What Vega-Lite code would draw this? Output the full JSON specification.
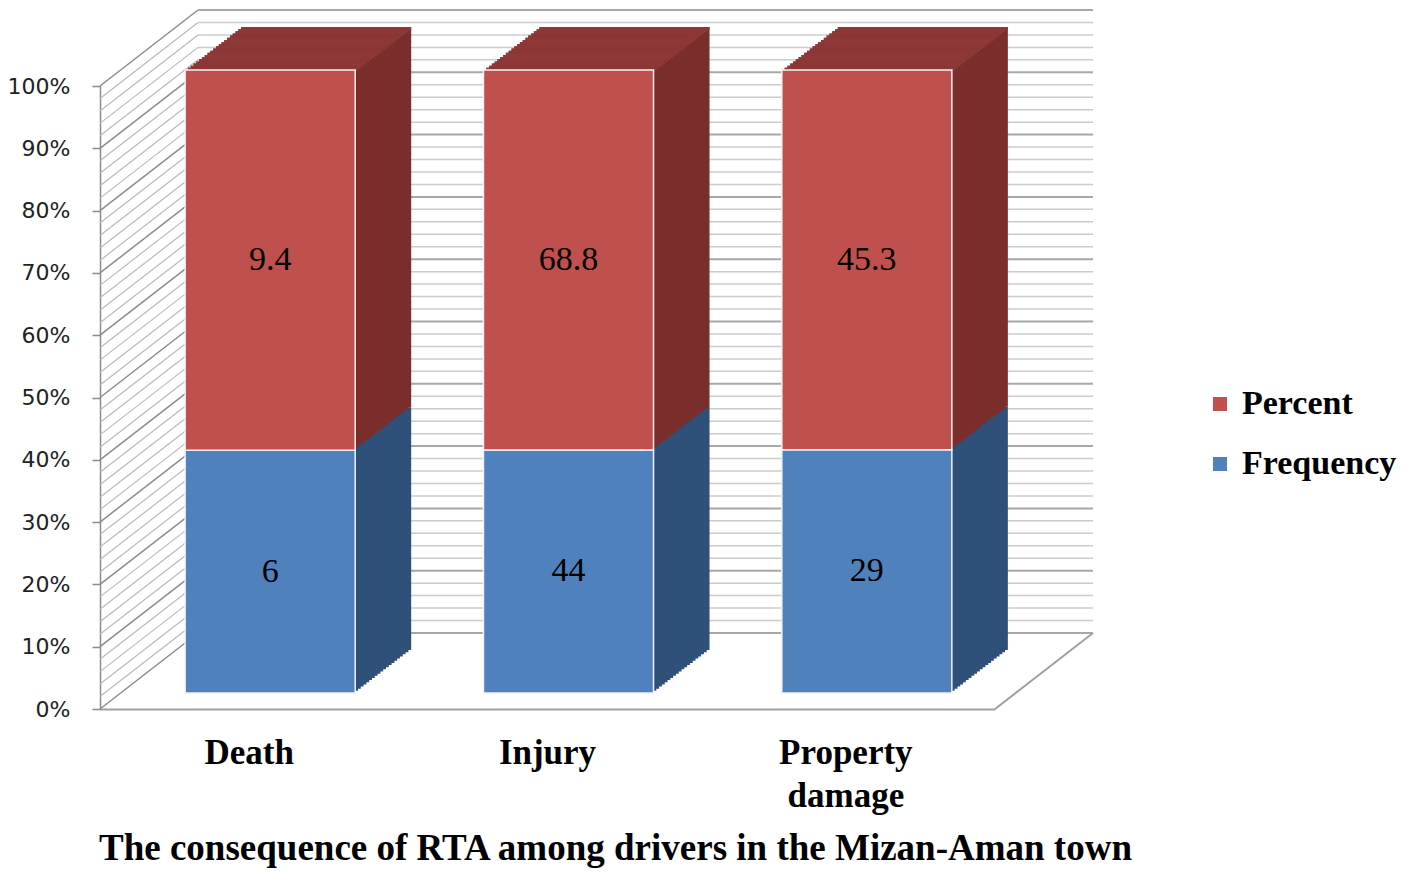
{
  "$schema": "https://vega.github.io/schema/vega-lite/v6.json",
  "width": 895,
  "height": 623,
  "autosize": "none",
  "padding": {"left": 100, "top": 86, "right": 422, "bottom": 164},
  "background": "white",
  "config": {
    "view": {"stroke": null},
    "legend": {"labelFont": "Liberation Serif", "labelFontWeight": "bold", "labelFontSize": 34, "labelColor": "black"}
  },
  "datasets": {
    "rta": [
      {"cat": "Death", "series": "Frequency", "val": 6},
      {"cat": "Death", "series": "Percent", "val": 9.4},
      {"cat": "Injury", "series": "Frequency", "val": 44},
      {"cat": "Injury", "series": "Percent", "val": 68.8},
      {"cat": "Property damage", "series": "Frequency", "val": 29},
      {"cat": "Property damage", "series": "Percent", "val": 45.3}
    ],
    "minor": [
      {"g": 0.02}, {"g": 0.04}, {"g": 0.06}, {"g": 0.08},
      {"g": 0.12}, {"g": 0.14}, {"g": 0.16}, {"g": 0.18},
      {"g": 0.22}, {"g": 0.24}, {"g": 0.26}, {"g": 0.28},
      {"g": 0.32}, {"g": 0.34}, {"g": 0.36}, {"g": 0.38},
      {"g": 0.42}, {"g": 0.44}, {"g": 0.46}, {"g": 0.48},
      {"g": 0.52}, {"g": 0.54}, {"g": 0.56}, {"g": 0.58},
      {"g": 0.62}, {"g": 0.64}, {"g": 0.66}, {"g": 0.68},
      {"g": 0.72}, {"g": 0.74}, {"g": 0.76}, {"g": 0.78},
      {"g": 0.82}, {"g": 0.84}, {"g": 0.86}, {"g": 0.88},
      {"g": 0.92}, {"g": 0.94}, {"g": 0.96}, {"g": 0.98}
    ],
    "major": [
      {"g": 0}, {"g": 0.1}, {"g": 0.2}, {"g": 0.3}, {"g": 0.4}, {"g": 0.5},
      {"g": 0.6}, {"g": 0.7}, {"g": 0.8}, {"g": 0.9}, {"g": 1}
    ]
  },
  "layer": [
    {
      "layer": [
        {
          "data": {"name": "minor"},
          "mark": {"type": "rule", "color": "#CCCCCC", "strokeWidth": 1.5, "yOffset": -76, "y2Offset": -76},
          "encoding": {
            "x": {"datum": 0.1095, "type": "quantitative", "scale": {"domain": [0, 1], "nice": false}, "axis": null},
            "x2": {"datum": 1.1095},
            "y": {"field": "g", "type": "quantitative", "scale": {"domain": [0, 1], "nice": false}, "axis": null},
            "y2": {"field": "g"}
          }
        },
        {
          "data": {"name": "major"},
          "mark": {"type": "rule", "color": "#A8A8A8", "strokeWidth": 2, "yOffset": -76, "y2Offset": -76},
          "encoding": {
            "x": {"datum": 0.1095, "type": "quantitative", "axis": null},
            "x2": {"datum": 1.1095},
            "y": {"field": "g", "type": "quantitative", "axis": null},
            "y2": {"field": "g"}
          }
        },
        {
          "data": {"name": "minor"},
          "mark": {"type": "rule", "color": "#BBBBBB", "strokeWidth": 1.2, "y2Offset": -76},
          "encoding": {
            "x": {"datum": 0, "type": "quantitative", "axis": null},
            "x2": {"datum": 0.1095},
            "y": {"field": "g", "type": "quantitative", "axis": null},
            "y2": {"field": "g"}
          }
        },
        {
          "data": {"name": "major"},
          "mark": {"type": "rule", "color": "#8C8C8C", "strokeWidth": 1.5, "y2Offset": -76},
          "encoding": {
            "x": {"datum": 0, "type": "quantitative", "axis": null},
            "x2": {"datum": 0.1095},
            "y": {"field": "g", "type": "quantitative", "axis": null},
            "y2": {"field": "g"}
          }
        },
        {
          "data": {"values": [{"g": 0}]},
          "mark": {"type": "rule", "color": "#A0A0A0", "strokeWidth": 2, "y2Offset": -76},
          "encoding": {
            "x": {"datum": 1, "type": "quantitative", "axis": null},
            "x2": {"datum": 1.1095},
            "y": {"field": "g", "type": "quantitative", "axis": null},
            "y2": {"field": "g"}
          }
        }
      ]
    },
    {
      "data": {"name": "rta"},
      "transform": [
        {"stack": "val", "groupby": ["cat"], "sort": [{"field": "series", "order": "ascending"}], "offset": "normalize", "as": ["y0", "y1"]},
        {"calculate": "(datum.y0 + datum.y1) / 2", "as": "mid"}
      ],
      "encoding": {
        "x": {
          "field": "cat",
          "type": "nominal",
          "sort": ["Death", "Injury", "Property damage"],
          "scale": {"paddingInner": 0.43, "paddingOuter": 0.215},
          "axis": {
            "labelAngle": 0,
            "labelFont": "Liberation Serif",
            "labelFontWeight": "bold",
            "labelFontSize": 35,
            "labelColor": "black",
            "labelPadding": 26,
            "labelLineHeight": 43,
            "labelExpr": "split(datum.label, ' ')",
            "ticks": false,
            "domainColor": "#A0A0A0",
            "domainWidth": 2,
            "title": "The consequence of RTA among drivers in the Mizan-Aman  town",
            "titleFont": "Liberation Serif",
            "titleFontWeight": "bold",
            "titleFontSize": 37,
            "titleColor": "black",
            "titleAlign": "center",
            "titleBaseline": "alphabetic",
            "titleX": 515,
            "titleY": 150
          }
        },
        "y": {
          "field": "y1",
          "type": "quantitative",
          "scale": {"domain": [0, 1], "nice": false},
          "axis": {
            "values": [0, 0.1, 0.2, 0.3, 0.4, 0.5, 0.6, 0.7, 0.8, 0.9, 1],
            "format": ".0%",
            "title": null,
            "grid": false,
            "labelFont": "DejaVu Sans",
            "labelFontSize": 22,
            "labelColor": "#222222",
            "labelPadding": 22,
            "tickSize": 8,
            "tickColor": "#8C8C8C",
            "tickWidth": 1.5,
            "domainColor": "#8C8C8C",
            "domainWidth": 1.5
          }
        }
      },
      "layer": [
        {"mark": {"type": "bar", "xOffset": 77, "yOffset": -59, "y2Offset": -59}, "encoding": {"y2": {"field": "y0"}, "color": {"condition": {"test": "datum.series === 'Percent'", "value": "#7A2E2C"}, "value": "#2F5079"}}},
        {"transform": [{"filter": "datum.series === 'Percent'"}], "mark": {"type": "bar", "color": "#8E3937", "xOffset": 77, "yOffset": -59, "y2Offset": -56}, "encoding": {"y2": {"field": "y1"}}},
        {"mark": {"type": "bar", "xOffset": 74.2, "yOffset": -56.85, "y2Offset": -56.85}, "encoding": {"y2": {"field": "y0"}, "color": {"condition": {"test": "datum.series === 'Percent'", "value": "#7A2E2C"}, "value": "#2F5079"}}},
        {"transform": [{"filter": "datum.series === 'Percent'"}], "mark": {"type": "bar", "color": "#8E3937", "xOffset": 74.2, "yOffset": -56.85, "y2Offset": -53.85}, "encoding": {"y2": {"field": "y1"}}},
        {"mark": {"type": "bar", "xOffset": 71.4, "yOffset": -54.7, "y2Offset": -54.7}, "encoding": {"y2": {"field": "y0"}, "color": {"condition": {"test": "datum.series === 'Percent'", "value": "#7A2E2C"}, "value": "#2F5079"}}},
        {"transform": [{"filter": "datum.series === 'Percent'"}], "mark": {"type": "bar", "color": "#8E3937", "xOffset": 71.4, "yOffset": -54.7, "y2Offset": -51.7}, "encoding": {"y2": {"field": "y1"}}},
        {"mark": {"type": "bar", "xOffset": 68.6, "yOffset": -52.55, "y2Offset": -52.55}, "encoding": {"y2": {"field": "y0"}, "color": {"condition": {"test": "datum.series === 'Percent'", "value": "#7A2E2C"}, "value": "#2F5079"}}},
        {"transform": [{"filter": "datum.series === 'Percent'"}], "mark": {"type": "bar", "color": "#8E3937", "xOffset": 68.6, "yOffset": -52.55, "y2Offset": -49.55}, "encoding": {"y2": {"field": "y1"}}},
        {"mark": {"type": "bar", "xOffset": 65.8, "yOffset": -50.4, "y2Offset": -50.4}, "encoding": {"y2": {"field": "y0"}, "color": {"condition": {"test": "datum.series === 'Percent'", "value": "#7A2E2C"}, "value": "#2F5079"}}},
        {"transform": [{"filter": "datum.series === 'Percent'"}], "mark": {"type": "bar", "color": "#8E3937", "xOffset": 65.8, "yOffset": -50.4, "y2Offset": -47.4}, "encoding": {"y2": {"field": "y1"}}},
        {"mark": {"type": "bar", "xOffset": 63, "yOffset": -48.25, "y2Offset": -48.25}, "encoding": {"y2": {"field": "y0"}, "color": {"condition": {"test": "datum.series === 'Percent'", "value": "#7A2E2C"}, "value": "#2F5079"}}},
        {"transform": [{"filter": "datum.series === 'Percent'"}], "mark": {"type": "bar", "color": "#8E3937", "xOffset": 63, "yOffset": -48.25, "y2Offset": -45.25}, "encoding": {"y2": {"field": "y1"}}},
        {"mark": {"type": "bar", "xOffset": 60.2, "yOffset": -46.1, "y2Offset": -46.1}, "encoding": {"y2": {"field": "y0"}, "color": {"condition": {"test": "datum.series === 'Percent'", "value": "#7A2E2C"}, "value": "#2F5079"}}},
        {"transform": [{"filter": "datum.series === 'Percent'"}], "mark": {"type": "bar", "color": "#8E3937", "xOffset": 60.2, "yOffset": -46.1, "y2Offset": -43.1}, "encoding": {"y2": {"field": "y1"}}},
        {"mark": {"type": "bar", "xOffset": 57.4, "yOffset": -43.95, "y2Offset": -43.95}, "encoding": {"y2": {"field": "y0"}, "color": {"condition": {"test": "datum.series === 'Percent'", "value": "#7A2E2C"}, "value": "#2F5079"}}},
        {"transform": [{"filter": "datum.series === 'Percent'"}], "mark": {"type": "bar", "color": "#8E3937", "xOffset": 57.4, "yOffset": -43.95, "y2Offset": -40.95}, "encoding": {"y2": {"field": "y1"}}},
        {"mark": {"type": "bar", "xOffset": 54.6, "yOffset": -41.8, "y2Offset": -41.8}, "encoding": {"y2": {"field": "y0"}, "color": {"condition": {"test": "datum.series === 'Percent'", "value": "#7A2E2C"}, "value": "#2F5079"}}},
        {"transform": [{"filter": "datum.series === 'Percent'"}], "mark": {"type": "bar", "color": "#8E3937", "xOffset": 54.6, "yOffset": -41.8, "y2Offset": -38.8}, "encoding": {"y2": {"field": "y1"}}},
        {"mark": {"type": "bar", "xOffset": 51.8, "yOffset": -39.65, "y2Offset": -39.65}, "encoding": {"y2": {"field": "y0"}, "color": {"condition": {"test": "datum.series === 'Percent'", "value": "#7A2E2C"}, "value": "#2F5079"}}},
        {"transform": [{"filter": "datum.series === 'Percent'"}], "mark": {"type": "bar", "color": "#8E3937", "xOffset": 51.8, "yOffset": -39.65, "y2Offset": -36.65}, "encoding": {"y2": {"field": "y1"}}},
        {"mark": {"type": "bar", "xOffset": 49, "yOffset": -37.5, "y2Offset": -37.5}, "encoding": {"y2": {"field": "y0"}, "color": {"condition": {"test": "datum.series === 'Percent'", "value": "#7A2E2C"}, "value": "#2F5079"}}},
        {"transform": [{"filter": "datum.series === 'Percent'"}], "mark": {"type": "bar", "color": "#8E3937", "xOffset": 49, "yOffset": -37.5, "y2Offset": -34.5}, "encoding": {"y2": {"field": "y1"}}},
        {"mark": {"type": "bar", "xOffset": 46.2, "yOffset": -35.35, "y2Offset": -35.35}, "encoding": {"y2": {"field": "y0"}, "color": {"condition": {"test": "datum.series === 'Percent'", "value": "#7A2E2C"}, "value": "#2F5079"}}},
        {"transform": [{"filter": "datum.series === 'Percent'"}], "mark": {"type": "bar", "color": "#8E3937", "xOffset": 46.2, "yOffset": -35.35, "y2Offset": -32.35}, "encoding": {"y2": {"field": "y1"}}},
        {"mark": {"type": "bar", "xOffset": 43.4, "yOffset": -33.2, "y2Offset": -33.2}, "encoding": {"y2": {"field": "y0"}, "color": {"condition": {"test": "datum.series === 'Percent'", "value": "#7A2E2C"}, "value": "#2F5079"}}},
        {"transform": [{"filter": "datum.series === 'Percent'"}], "mark": {"type": "bar", "color": "#8E3937", "xOffset": 43.4, "yOffset": -33.2, "y2Offset": -30.2}, "encoding": {"y2": {"field": "y1"}}},
        {"mark": {"type": "bar", "xOffset": 40.6, "yOffset": -31.05, "y2Offset": -31.05}, "encoding": {"y2": {"field": "y0"}, "color": {"condition": {"test": "datum.series === 'Percent'", "value": "#7A2E2C"}, "value": "#2F5079"}}},
        {"transform": [{"filter": "datum.series === 'Percent'"}], "mark": {"type": "bar", "color": "#8E3937", "xOffset": 40.6, "yOffset": -31.05, "y2Offset": -28.05}, "encoding": {"y2": {"field": "y1"}}},
        {"mark": {"type": "bar", "xOffset": 37.8, "yOffset": -28.9, "y2Offset": -28.9}, "encoding": {"y2": {"field": "y0"}, "color": {"condition": {"test": "datum.series === 'Percent'", "value": "#7A2E2C"}, "value": "#2F5079"}}},
        {"transform": [{"filter": "datum.series === 'Percent'"}], "mark": {"type": "bar", "color": "#8E3937", "xOffset": 37.8, "yOffset": -28.9, "y2Offset": -25.9}, "encoding": {"y2": {"field": "y1"}}},
        {"mark": {"type": "bar", "xOffset": 35, "yOffset": -26.75, "y2Offset": -26.75}, "encoding": {"y2": {"field": "y0"}, "color": {"condition": {"test": "datum.series === 'Percent'", "value": "#7A2E2C"}, "value": "#2F5079"}}},
        {"transform": [{"filter": "datum.series === 'Percent'"}], "mark": {"type": "bar", "color": "#8E3937", "xOffset": 35, "yOffset": -26.75, "y2Offset": -23.75}, "encoding": {"y2": {"field": "y1"}}},
        {"mark": {"type": "bar", "xOffset": 32.2, "yOffset": -24.6, "y2Offset": -24.6}, "encoding": {"y2": {"field": "y0"}, "color": {"condition": {"test": "datum.series === 'Percent'", "value": "#7A2E2C"}, "value": "#2F5079"}}},
        {"transform": [{"filter": "datum.series === 'Percent'"}], "mark": {"type": "bar", "color": "#8E3937", "xOffset": 32.2, "yOffset": -24.6, "y2Offset": -21.6}, "encoding": {"y2": {"field": "y1"}}},
        {"mark": {"type": "bar", "xOffset": 29.4, "yOffset": -22.45, "y2Offset": -22.45}, "encoding": {"y2": {"field": "y0"}, "color": {"condition": {"test": "datum.series === 'Percent'", "value": "#7A2E2C"}, "value": "#2F5079"}}},
        {"transform": [{"filter": "datum.series === 'Percent'"}], "mark": {"type": "bar", "color": "#8E3937", "xOffset": 29.4, "yOffset": -22.45, "y2Offset": -19.45}, "encoding": {"y2": {"field": "y1"}}},
        {"mark": {"type": "bar", "xOffset": 26.6, "yOffset": -20.3, "y2Offset": -20.3}, "encoding": {"y2": {"field": "y0"}, "color": {"condition": {"test": "datum.series === 'Percent'", "value": "#7A2E2C"}, "value": "#2F5079"}}},
        {"transform": [{"filter": "datum.series === 'Percent'"}], "mark": {"type": "bar", "color": "#8E3937", "xOffset": 26.6, "yOffset": -20.3, "y2Offset": -17.3}, "encoding": {"y2": {"field": "y1"}}},
        {"mark": {"type": "bar", "xOffset": 23.8, "yOffset": -18.15, "y2Offset": -18.15}, "encoding": {"y2": {"field": "y0"}, "color": {"condition": {"test": "datum.series === 'Percent'", "value": "#7A2E2C"}, "value": "#2F5079"}}},
        {"transform": [{"filter": "datum.series === 'Percent'"}], "mark": {"type": "bar", "color": "#8E3937", "xOffset": 23.8, "yOffset": -18.15, "y2Offset": -15.15}, "encoding": {"y2": {"field": "y1"}}},
        {
          "mark": {"type": "bar", "xOffset": 21, "yOffset": -16, "y2Offset": -16, "stroke": "#F2F2F2", "strokeWidth": 1.5},
          "encoding": {
            "y2": {"field": "y0"},
            "color": {
              "field": "series",
              "type": "nominal",
              "scale": {"domain": ["Percent", "Frequency"], "range": ["#C0504D", "#4F81BD"]},
              "legend": {
                "title": null,
                "orient": "none",
                "legendX": 1103,
                "legendY": 301,
                "symbolType": "square",
                "symbolSize": 196,
                "symbolStrokeWidth": 0,
                "labelOffset": 5,
                "rowPadding": 26
              }
            }
          }
        },
        {
          "mark": {"type": "text", "font": "Liberation Serif", "fontSize": 34, "color": "black", "xOffset": 21, "yOffset": -16, "baseline": "middle"},
          "encoding": {
            "y": {"field": "mid", "type": "quantitative"},
            "text": {"field": "val", "type": "quantitative"}
          }
        }
      ]
    }
  ],
  "resolve": {"scale": {"x": "independent"}, "axis": {"y": "independent"}}
}
